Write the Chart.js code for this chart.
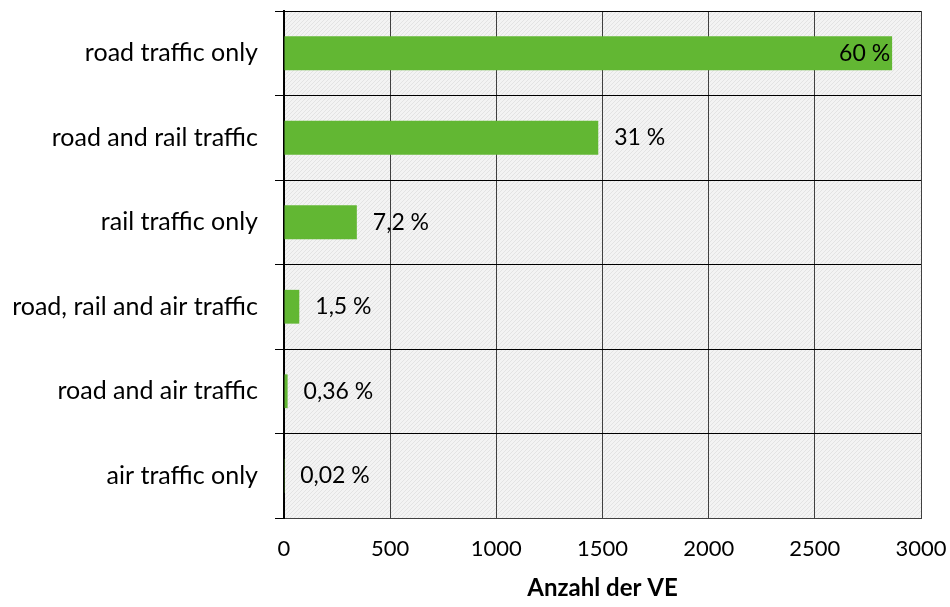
<!DOCTYPE html>
<html>
<head>
<meta charset="utf-8">
<script src="https://cdn.jsdelivr.net/npm/chart.js@4.4.1/dist/chart.umd.min.js"></script>
<style>
  html, body { margin: 0; padding: 0; background: #fff; }
  #wrap { width: 950px; height: 607px; }
</style>
</head>
<body>
<div id="wrap"><canvas id="myChart"></canvas></div>
<script>
const categorias = [
  "road traffic only",
  "road and rail traffic",
  "rail traffic only",
  "road, rail and air traffic",
  "road and air traffic",
  "air traffic only"
];
const valores = [2864, 1480, 343, 72, 17, 1];
const porcentajes = ["60 %", "31 %", "7,2 %", "1,5 %", "0,36 %", "0,02 %"];
const ticksX = [0, 500, 1000, 1500, 2000, 2500, 3000];

const fuente = "Lato, 'Open Sans', sans-serif";

// fondo rayado del area del grafico
function crearPatron() {
  const c = document.createElement("canvas");
  c.width = 4;
  c.height = 4;
  const ctx = c.getContext("2d");
  ctx.fillStyle = "#f3f3f3";
  ctx.fillRect(0, 0, 4, 4);
  ctx.fillStyle = "#e3e3e3";
  ctx.fillRect(3, 0, 1, 1);
  ctx.fillRect(2, 1, 1, 1);
  ctx.fillRect(1, 2, 1, 1);
  ctx.fillRect(0, 3, 1, 1);
  return ctx.createPattern(c, "repeat");
}

const fondo = {
  id: "fondo",
  beforeDraw(chart) {
    const { ctx, chartArea } = chart;
    ctx.save();
    ctx.fillStyle = crearPatron();
    ctx.fillRect(chartArea.left, chartArea.top, chartArea.right - chartArea.left, chartArea.bottom - chartArea.top);
    ctx.restore();
  }
};

const etiquetas = {
  id: "etiquetas",
  afterDatasetsDraw(chart) {
    const { ctx } = chart;
    const meta = chart.getDatasetMeta(0);
    ctx.save();
    ctx.font = "23px " + fuente;
    ctx.fillStyle = "#000";
    ctx.textBaseline = "middle";
    meta.data.forEach((bar, i) => {
      if (i === 0) {
        ctx.textAlign = "right";
        ctx.fillText(porcentajes[i], bar.x - 2, bar.y);
      } else {
        ctx.textAlign = "left";
        ctx.fillText(porcentajes[i], bar.x + 16, bar.y);
      }
    });
    ctx.restore();
  }
};

const divChart = document.getElementById("myChart");

const myChart = new Chart(divChart, {
  type: "bar",
  data: {
    labels: categorias,
    datasets: [
      {
        label: "Anzahl der VE",
        data: valores,
        backgroundColor: "#62B733",
        barPercentage: 0.4,
        categoryPercentage: 1
      }
    ]
  },
  options: {
    indexAxis: "y",
    responsive: true,
    maintainAspectRatio: false,
    animation: false,
    layout: {
      padding: { top: 11, right: 29, left: 0, bottom: 0 }
    },
    plugins: {
      legend: { display: false },
      tooltip: { enabled: false }
    },
    scales: {
      x: {
        min: 0,
        max: 3000,
        afterBuildTicks: (axis) => {
          axis.ticks = ticksX.map((v) => ({ value: v }));
        },
        afterFit: (axis) => {
          axis.height = 89;
          axis.paddingLeft = 0;
          axis.paddingRight = 0;
        },
        grid: {
          color: "#404040",
          lineWidth: 1,
          drawTicks: false
        },
        border: { display: true, color: "#404040", width: 1 },
        ticks: {
          padding: 18,
          color: "#000",
          font: { family: fuente, size: 22 },
          maxRotation: 0,
          callback: (v) => String(v)
        },
        title: {
          display: true,
          text: "Anzahl der VE",
          color: "#000",
          font: { family: fuente, size: 24, weight: "bold" },
          padding: { top: 8 }
        }
      },
      y: {
        afterFit: (axis) => {
          axis.width = 284;
          axis.paddingTop = 0;
          axis.paddingBottom = 0;
        },
        grid: {
          color: "#000",
          lineWidth: 1,
          tickLength: 9,
          offset: true
        },
        border: { display: true, color: "#000", width: 2 },
        ticks: {
          padding: 17,
          color: "#000",
          font: { family: fuente, size: 25 }
        }
      }
    }
  },
  plugins: [fondo, etiquetas]
});
</script>
</body>
</html>
